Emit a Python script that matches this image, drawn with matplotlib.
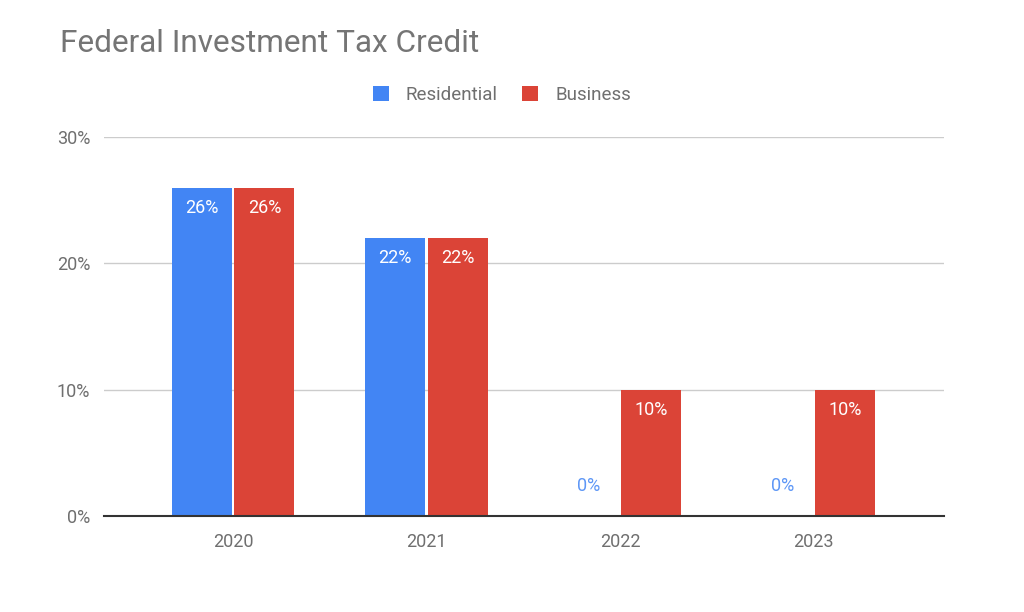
import matplotlib
matplotlib.use("Agg")
import matplotlib.pyplot as plt
import numpy as np
from matplotlib.ticker import FuncFormatter, MultipleLocator

years = ["2020", "2021", "2022", "2023"]
residential = [26, 22, 0, 0]
business = [26, 22, 10, 10]
series_names = ["Residential", "Business"]
colors = ["#4285F4", "#DB4437"]

plt.rcParams['font.family'] = ['Roboto', 'DejaVu Sans']

fig = plt.figure(figsize=(10.24, 6.12), dpi=100)
ax = fig.add_axes([104/1024, (612-516)/612, 840/1024, (516-137)/612])

x = np.arange(len(years))
w = 0.31
off = 0.162
b1 = ax.bar(x - off, residential, w, color=colors[0], label=series_names[0], zorder=3)
b2 = ax.bar(x + off, business, w, color=colors[1], label=series_names[1], zorder=3)

for bars, vals, col in [(b1, residential, colors[0]), (b2, business, colors[1])]:
    for rect, v in zip(bars, vals):
        cx = rect.get_x() + rect.get_width() / 2
        if v > 0:
            ax.annotate(f"{v}%", (cx, v), xytext=(0, -20), textcoords="offset pixels",
                        ha="center", va="center", color="white", fontsize=13, zorder=4)
        else:
            ax.annotate(f"{v}%", (cx, v), xytext=(0, 30), textcoords="offset pixels",
                        ha="center", va="center", color="#5e97f6", fontsize=13, zorder=4)

ax.set_xlim(-0.667, 3.674)
ax.set_ylim(0, 30)
ax.yaxis.set_major_locator(MultipleLocator(10))
ax.yaxis.set_major_formatter(FuncFormatter(lambda v, p: f"{int(v)}%"))
ax.set_xticks(x)
ax.set_xticklabels(years)
ax.tick_params(axis='both', length=0, labelsize=13, labelcolor="#6f6f6f")
ax.tick_params(axis='y', pad=10)
ax.tick_params(axis='x', pad=12)
ax.grid(axis='y', color="#cccccc", linewidth=1, zorder=0)
for s in ["top", "right", "left"]:
    ax.spines[s].set_visible(False)
ax.spines["bottom"].set_color("#333333")
ax.spines["bottom"].set_linewidth(1.5)
ax.spines["bottom"].set_zorder(5)

fig.text(60/1024, 1 - 44/612, "Federal Investment Tax Credit", fontsize=22.7,
         color="#757575", ha="left", va="center")

leg = fig.legend(handles=[b1, b2], labels=series_names, loc="center",
                 bbox_to_anchor=(502/1024, 1 - 95/612), ncol=2, frameon=False,
                 fontsize=13.5, handlelength=0.85, handleheight=0.85, columnspacing=1.3,
                 handletextpad=0.9, labelcolor="#6f6f6f")

fig.savefig("out.png", dpi=100)
